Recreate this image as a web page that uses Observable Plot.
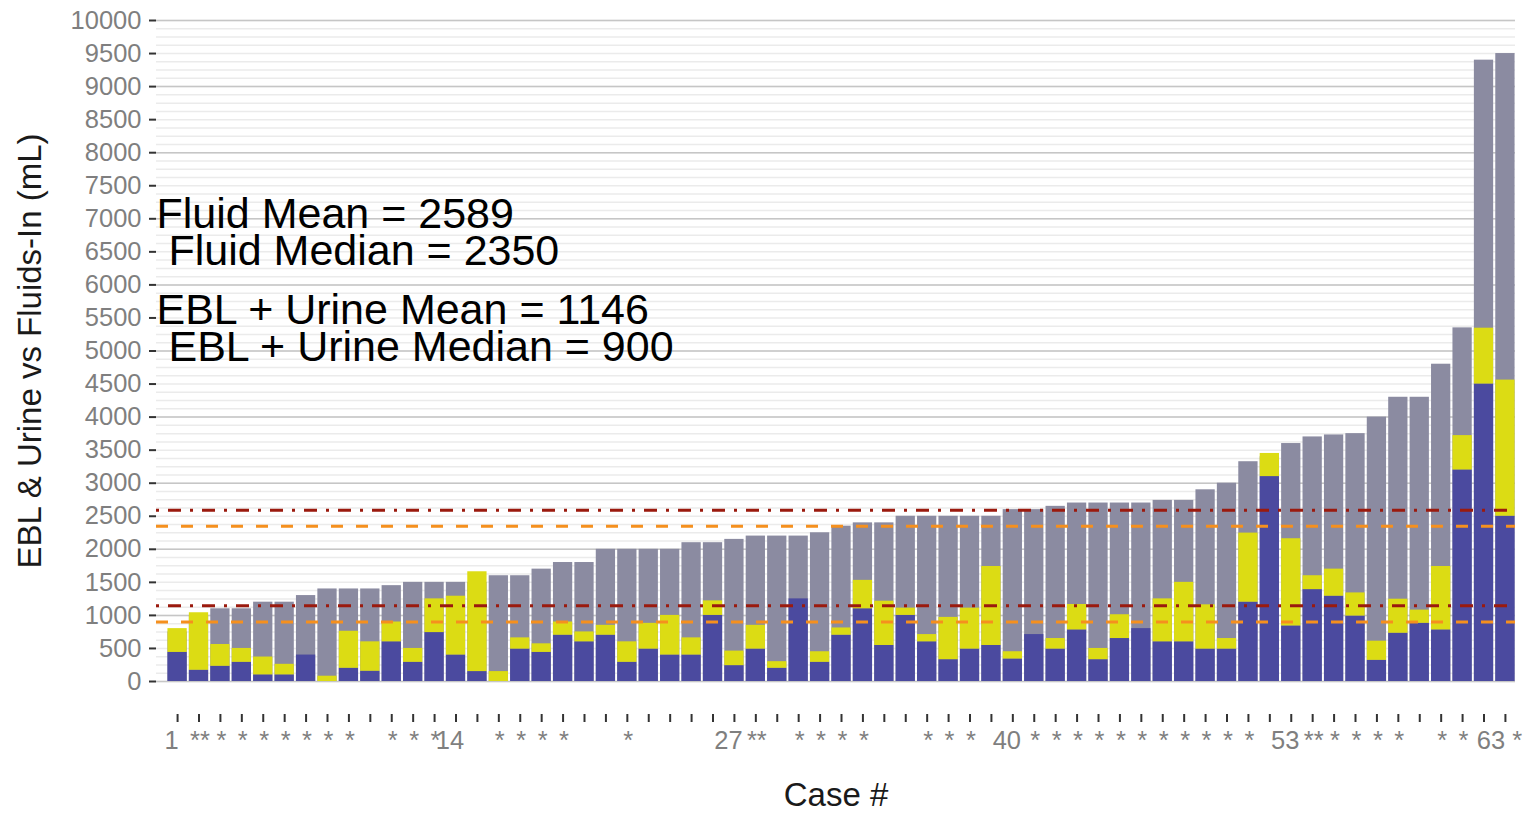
<!DOCTYPE html>
<html><head><meta charset="utf-8">
<script src="https://cdn.jsdelivr.net/npm/d3@7"></script>
<script src="https://cdn.jsdelivr.net/npm/@observablehq/plot@0.6"></script>
<style>html,body{margin:0;padding:0;background:#fff;}</style>
</head><body><div id="chart"></div>
<script>
const cases = d3.range(1, 64);
const fluids = [750,1000,1100,1100,1200,1200,1300,1400,1400,1400,
  1450,1500,1500,1500,1500,1600,1600,1700,1800,1800,
  2000,2000,2000,2000,2100,2100,2150,2200,2200,2200,
  2250,2350,2400,2400,2500,2500,2500,2500,2500,2600,
  2600,2650,2700,2700,2700,2700,2740,2740,2900,3000,
  3325,3400,3600,3700,3730,3750,4000,4300,4300,4800,
  5350,9400,9500];
const ebl = [440,170,230,290,100,100,400,0,200,155,
  600,290,740,400,150,0,490,440,700,600,
  700,290,490,400,400,1000,240,490,200,1250,
  290,700,1100,545,1000,600,330,490,545,340,
  710,490,780,330,650,800,600,600,490,490,
  1200,3100,840,1390,1290,990,320,730,880,780,
  3200,4500,2500];
const eblPlusUrine = [800,1040,560,500,370,260,400,80,760,600,
  900,500,1250,1290,1660,150,660,570,900,750,
  850,600,880,1000,660,1220,460,850,300,1250,
  450,810,1530,1215,1110,710,970,1110,1740,450,
  710,650,1165,500,1010,800,1250,1500,1160,650,
  2245,3450,2160,1600,1700,1340,610,1245,1080,1740,
  3720,5345,4560];
// tick marks under the bars: stars and case numbers
const starLabels = ["", "**", "*", "*", "*", "*", "*", "*", "*", "",
  "*", "*", "*", "", "", "*", "*", "*", "*", "",
  "", "*", "", "", "", "", "", "**", "", "*",
  "*", "*", "*", "", "", "*", "*", "*", "", "",
  "*", "*", "*", "*", "*", "*", "*", "*", "*", "*",
  "*", "", "", "**", "*", "*", "*", "*", "", "*",
  "*", "", ""];
const numberLabels = {1: "1", 14: "14", 27: "27", 40: "40", 53: "53", 63: "63\u00a0*"};
const yTicks = d3.range(0, 10001, 500);
const meanValues = [2589, 1146];
const medianValues = [2350, 900];
const fluidNote = ["Fluid Mean = 2589\n\u00a0Fluid Median = 2350"];
const eblNote = ["EBL + Urine Mean = 1146\n\u00a0EBL + Urine Median = 900"];

const fluidRows = cases.map((c, i) => ({case: c, fluid: fluids[i]}));
const partRows = cases.flatMap((c, i) => [
  {case: c, part: "EBL", value: ebl[i]},
  {case: c, part: "Urine", value: eblPlusUrine[i] - ebl[i]}
]);

const chart = Plot.plot({
  width: 1528, height: 824,
  marginLeft: 156, marginRight: 13, marginTop: 20, marginBottom: 143,
  style: {fontFamily: "'Liberation Sans', Arial, sans-serif", fontSize: "25px", background: "#fff", color: "#1a1a1a"},
  x: {type: "band", domain: cases, range: [165.3, 1516.7], padding: 0.1, round: false},
  y: {domain: [0, 10000]},
  color: {domain: ["EBL", "Urine"], range: ["#4b4a9f", "#dcdc14"]},
  marks: [
    Plot.ruleY(d3.range(0, 10001, 125), {stroke: "#ebebeb", strokeWidth: 1.5}),
    Plot.ruleY(d3.range(0, 10001, 1000), {stroke: "#c6c6c6", strokeWidth: 1.5}),
    Plot.barY(fluidRows, {x: "case", y: "fluid", fill: "#8b8ba1"}),
    Plot.barY(partRows, {x: "case", y: "value", fill: "part"}),
    Plot.ruleY(meanValues, {stroke: "#9b1a0e", strokeWidth: 3, strokeDasharray: "3 9 13 9"}),
    Plot.ruleY(medianValues, {stroke: "#f5901e", strokeWidth: 3, strokeDasharray: "12 13"}),
    Plot.text(fluidNote, {y: 6760, frameAnchor: "left", textAnchor: "start", fontSize: 43, lineHeight: 0.86, fill: "#000"}),
    Plot.text(eblNote, {y: 5310, frameAnchor: "left", textAnchor: "start", fontSize: 43, lineHeight: 0.86, fill: "#000"}),
    Plot.axisY({ticks: yTicks, tickFormat: d3.format("d"), tickSize: 7, tickPadding: 8, stroke: "#333", strokeWidth: 2, fill: "#7f7f7f", fontSize: 25.5, label: null}),
    Plot.axisX({anchor: "bottom", tickSize: 8, dy: 33, stroke: "#333", strokeWidth: 2, fill: "none", label: null}),
    Plot.axisX({anchor: "bottom", tickSize: 0, tickPadding: 16, dy: 33, dx: 1, fill: "#7f7f7f", fontSize: 25.5, label: null,
      tickFormat: (d) => starLabels[d - 1]}),
    Plot.axisX({anchor: "bottom", tickSize: 0, tickPadding: 16, dy: 33, dx: -6, fill: "#7f7f7f", fontSize: 25.5, label: null,
      tickFormat: (d) => numberLabels[d] ?? ""}),
    Plot.text(["Case #"], {frameAnchor: "bottom", dy: 124, fontSize: 33, fill: "#1a1a1a"}),
    Plot.text(["EBL & Urine vs Fluids-In (mL)"], {frameAnchor: "left", textAnchor: "middle", rotate: -90, dx: -126, fontSize: 33, fill: "#1a1a1a"})
  ]
});
document.getElementById("chart").appendChild(chart);
</script>
</body></html>
